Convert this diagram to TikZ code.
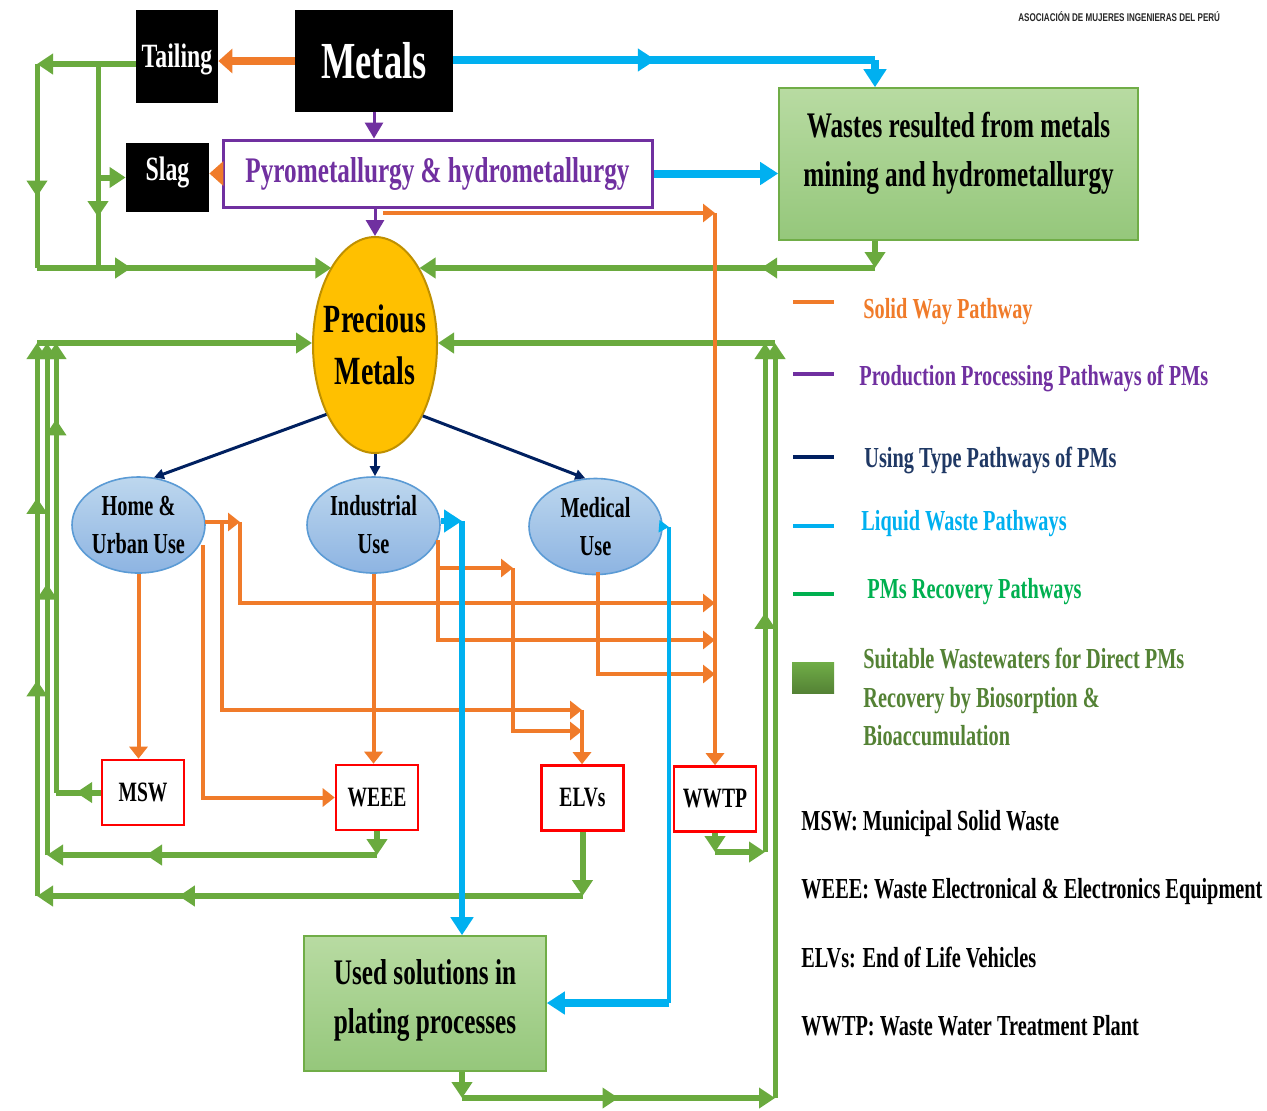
\documentclass[tikz,border=0pt]{standalone}
\usepackage{fontspec}
\setmainfont[FakeStretch=0.7]{Liberation Serif}
\newfontfamily\asocfont[FakeStretch=0.72]{Liberation Sans}
\usetikzlibrary{arrows.meta,shapes.geometric,decorations.markings,calc}
\newcommand\fsz[2]{\fontsize{#1}{#2}\selectfont}

\definecolor{cOr}{HTML}{F07B2A}
\definecolor{cBl}{HTML}{00B0F0}
\definecolor{cPur}{HTML}{7030A0}
\definecolor{cNav}{HTML}{002060}
\definecolor{cNavT}{HTML}{1F3864}
\definecolor{cGr}{HTML}{6AAA3E}
\definecolor{cGrL}{HTML}{00B050}
\definecolor{cGrT}{HTML}{548235}
\definecolor{cGrEdge}{HTML}{70AD47}
\definecolor{cGrTop}{HTML}{B8DBA2}
\definecolor{cGrBot}{HTML}{95C77B}
\definecolor{cYel}{HTML}{FFC000}
\definecolor{cGold}{HTML}{BF9000}
\definecolor{cBlueTop}{HTML}{BDD7EE}
\definecolor{cBlueBot}{HTML}{8DB4E2}
\definecolor{cBlueEdge}{HTML}{5B9BD5}
\definecolor{cRed}{HTML}{FF0000}

\begin{document}
\begin{tikzpicture}[x=0.5pt,y=-0.5pt,
  GT/.tip={Triangle[length=8pt,width=10pt]},
  OT/.tip={Triangle[length=6pt,width=9pt]},
  OTT/.tip={Triangle[length=7pt,width=12pt]},
  BT/.tip={Triangle[length=9pt,width=11pt]},
  BTS/.tip={Triangle[length=5pt,width=6pt]},
  PT/.tip={Triangle[length=8pt,width=9pt]},
  NT/.tip={Triangle[length=5pt,width=5pt]},
  gmid/.style={postaction={decorate,decoration={markings,mark=at position #1 with {\arrow{GT}}}}},
  gmidd/.style 2 args={postaction={decorate,decoration={markings,
      mark=at position #1 with {\arrow{GT}},mark=at position #2 with {\arrow{GT}}}}},
  bmid/.style={postaction={decorate,decoration={markings,mark=at position #1 with {\arrow{BT}}}}},
  gr/.style={draw=cGr,line width=3pt},
  grv/.style={draw=cGr,line width=2.5pt},
  osty/.style={draw=cOr,line width=2pt},
  othick/.style={draw=cOr,line width=4pt},
  bthick/.style={draw=cBl,line width=4pt},
  bmed/.style={draw=cBl,line width=3pt},
  bthin/.style={draw=cBl,line width=2pt},
  pur/.style={draw=cPur,line width=1.5pt},
  nav/.style={draw=cNav,line width=1.5pt},
  blk/.style={fill=black,text=white,inner sep=0pt},
  redbox/.style={draw=cRed,line width=1.3pt,fill=white,minimum width=41pt,
      minimum height=32.5pt,font=\bfseries\fsz{14}{16},inner sep=0pt},
  usebl/.style={ellipse,draw=cBlueEdge,line width=0.8pt,top color=cBlueTop,
      bottom color=cBlueBot,minimum width=66.5pt,minimum height=48pt,inner sep=0pt,
      align=center,font=\bfseries\fsz{14.5}{19}},
  grbox/.style={draw=cGrEdge,line width=0.8pt,top color=cGrTop,bottom color=cGrBot,inner sep=0pt},
  grtxt/.style={align=center,font=\bfseries\fsz{18}{24.5},inner sep=0pt},
  lgtxt/.style={anchor=base west,inner sep=0pt,font=\bfseries\fsz{14.5}{19}},
  swatch/.style={minimum width=20.5pt,minimum height=2.2pt,inner sep=0pt},
]
\fill[white] (0,0) rectangle (1267,1110);
\useasboundingbox (0,0) rectangle (1267,1110);

% ---------- boxes and ellipses ----------
\node[blk,minimum width=41pt,minimum height=46.5pt,font=\bfseries\fsz{17}{20},
      text height=11.2pt,text depth=0pt] (tailing) at (177,56.5) {Tailing};
\node[blk,minimum width=79pt,minimum height=51pt,font=\bfseries\fsz{26}{30},
      text height=17.2pt,text depth=0pt] (metals) at (374,61) {Metals};
\node[blk,minimum width=41.5pt,minimum height=34.5pt,font=\bfseries\fsz{17}{20},
      text height=11.2pt,text depth=8pt] (slag) at (167.5,177.5) {Slag};
\node[draw=cPur,line width=1.5pt,fill=white,text=cPur,minimum width=214.5pt,minimum height=33.5pt,
      font=\bfseries\fsz{18}{20},inner sep=0pt] (pyro) at (437.5,173.5) {Pyrometallurgy \& hydrometallurgy};
\node[grbox,minimum width=179.5pt,minimum height=76pt] (wastes) at (958.5,164) {};
\node[grtxt] (wastesT) at ($(wastes.center)+(0,-11)$) {Wastes resulted from metals\\mining and hydrometallurgy};
\node[ellipse,draw=cGold,line width=1pt,fill=cYel,minimum width=62pt,minimum height=108pt,inner sep=0pt] (pm) at (375,345) {};
\node[align=center,inner sep=0pt,font=\bfseries\fsz{20}{26}] (pmT) at (pm.center) {Precious\\Metals};
\node[usebl] (home) at (138.5,525) {Home \&\\Urban Use};
\node[usebl] (indus) at (373.5,525) {Industrial\\Use};
\node[usebl] (med) at (595.5,526.5) {Medical\\Use};
\node[redbox] (msw) at (143,792.5) {MSW};
\node[redbox] (weee) at (377,797.5) {WEEE};
\node[redbox] (elvs) at (582.5,798) {ELVs};
\node[redbox] (wwtp) at (715,799) {WWTP};
\node[grbox,minimum width=121pt,minimum height=67.5pt] (used) at (425,1003.5) {};
\node[grtxt] (usedT) at ($(used.center)+(0,-3)$) {Used solutions in\\plating processes};

% ---------- junction points ----------
\coordinate (gA) at (37,64);   \coordinate (gB) at (98,64);
\coordinate (gC) at (37,268);  \coordinate (gD) at (98,268);
\coordinate (gE) at (875,268);
\coordinate (lA) at (37,343);  \coordinate (lB) at (47,343);  \coordinate (lC) at (56,343);
\coordinate (lA2) at (37,896); \coordinate (lB2) at (47,855);
\coordinate (rA) at (765,343); \coordinate (rB) at (775,343);
\coordinate (rA2) at (765,852); \coordinate (rB2) at (775,1098); \coordinate (uA) at (462,1098);
\coordinate (oA) at (383,213); \coordinate (oB) at (715,213);
\coordinate (hA) at (205,522); \coordinate (hB) at (240,522);
\coordinate (hC) at (222,522); \coordinate (hD) at (203,545);
\coordinate (wA) at (715,603); \coordinate (wB) at (715,640); \coordinate (wC) at (715,674);
\coordinate (eA) at (582,710); \coordinate (eB) at (582,731);
\coordinate (iA) at (438,540); \coordinate (iB) at (438,568); \coordinate (iC) at (513,568);
\coordinate (mA) at (598,572);
\coordinate (bA) at (875,60);  \coordinate (bB) at (462,521);
\coordinate (bC) at (669,527); \coordinate (bD) at (669,1003);

% ---------- PMs recovery pathways ----------
\draw[gr,-GT] (tailing.west |- gA) -- (gA);
\draw[grv,gmid=0.65] (gA) -- (gC);
\draw[grv,gmid=0.75] (gB) -- (gD);
\draw[gr,-GT] (gB |- slag.west) -- (slag.west);
\draw[gr,-GT,gmid=0.32] (gC) -- (gC -| pm.119.5);
\draw[gr,-GT] (wastes.south -| gE) -- (gE);
\draw[gr,-GT,gmid=0.25] (gE) -- (gE -| pm.60.5);

\draw[gr,-GT] (lA) -- (lA -| pm.west);
\draw[gr,gmid=0.55] (msw.west) -- (lC |- msw.west);
\draw[grv,-GT,gmid=0.83] (lC |- msw.west) -- (lC);
\draw[gr,-GT] (weee.south) -- (weee.south |- lB2);
\draw[gr,-GT,gmid=0.7] (weee.south |- lB2) -- (lB2);
\draw[grv,-GT,gmid=0.53] (lB2) -- (lB);
\draw[gr,-GT] (elvs.south) -- (elvs.south |- lA2);
\draw[gr,-GT,gmid=0.74] (elvs.south |- lA2) -- (lA2);
\draw[grv,-GT,gmidd={0.39}{0.72}] (lA2) -- (lA);

\draw[gr,-GT] (rB) -- (rB -| pm.east);
\draw[gr,-GT] (wwtp.south) -- (wwtp.south |- rA2);
\draw[gr,-GT] (wwtp.south |- rA2) -- (rA2);
\draw[grv,-GT,gmid=0.47] (rA2) -- (rA);
\draw[gr,-GT] (used.south -| uA) -- (uA);
\draw[gr,-GT,gmid=0.5] (uA) -- (rB2);
\draw[grv,-GT] (rB2) -- (rB);

% ---------- solid way pathways ----------
\draw[othick,-OTT] (metals.west) -- (metals.west -| tailing.east);
\draw[othick,-OTT] (pyro.west) -- (pyro.west -| slag.east);
\draw[osty,-OT] (oA) -- (oB);
\draw[osty,-OT] (oB) -- (wwtp.north);
\draw[osty,-OT] (home.south) -- (home.south |- msw.north);
\draw[osty,-OT] (hA) -- (hB);
\draw[osty,-OT] (hB) |- (wA);
\draw[osty,-OT] (hC) |- (eA);
\draw[osty,-OT] (eA) -- (eA |- elvs.north);
\draw[osty,-OT] (hD) |- (weee.west);
\draw[osty,-OT] (indus.south) -- (indus.south |- weee.north);
\draw[osty,-OT] (iA) |- (wB);
\draw[osty,-OT] (iB) -- (iC);
\draw[osty,-OT] (iC) |- (eB);
\draw[osty,-OT] (mA) |- (wC);

% ---------- liquid waste pathways ----------
\draw[bthick,bmid=0.48] (metals.east |- bA) -- (bA);
\draw[bthick,-BT] (bA) -- (bA |- wastes.north);
\draw[bthick,-BT] (pyro.east) -- (pyro.east -| wastes.west);
\draw[bmed,-BT] (indus.east |- bB) -- (bB);
\draw[bmed,-BT] (bB) -- (bB |- used.north);
\draw[bthin,-BTS] (med.east) -- (bC);
\draw[bthin] (bC) -- (bD);
\draw[bthick,-BT] (bD) -- (bD -| used.east);

% ---------- production and use pathways ----------
\draw[pur,-PT] (metals.south) -- (metals.south |- pyro.north);
\draw[pur,-PT] (pyro.south -| pm.north) -- (pm.north);
\draw[nav,-NT] (pm.235) -- (home.72);
\draw[nav,-NT] (pm.south) -- (pm.south |- indus.north);
\draw[nav,-NT] (pm.-56) -- (med.102);

% ---------- legend ----------
\node[swatch,fill=cOr] (sw1) at (813.5,302) {};
\node[swatch,fill=cPur] (sw2) at (813.5,374) {};
\node[swatch,fill=cNav] (sw3) at (813.5,457) {};
\node[swatch,fill=cBl] (sw4) at (813.5,526) {};
\node[swatch,fill=cGrL] (sw5) at (813.5,594) {};
\node[minimum width=21pt,minimum height=15.5pt,inner sep=0pt,top color=cGrEdge,bottom color=cGrT] (sw6) at (813,677.5) {};
\node[lgtxt,text=cOr] (t1) at (863,318) {Solid Way Pathway};
\node[lgtxt,text=cPur] (t2) at (859,385) {Production Processing Pathways of PMs};
\node[lgtxt,text=cNavT] (t3) at (864,467) {Using Type Pathways of PMs};
\node[lgtxt,text=cBl] (t4) at (861,530) {Liquid Waste Pathways};
\node[lgtxt,text=cGrL] (t5) at (867,598) {PMs Recovery Pathways};
\node[lgtxt,text=cGrT] (t6a) at (863,668) {Suitable Wastewaters for Direct PMs};
\node[lgtxt,text=cGrT] (t6b) at (863,707) {Recovery by Biosorption \&};
\node[lgtxt,text=cGrT] (t6c) at (863,745) {Bioaccumulation};

\node[lgtxt] (a1) at (801,830) {MSW: Municipal Solid Waste};
\node[lgtxt] (a2) at (801,898) {WEEE: Waste Electronical \& Electronics Equipment};
\node[lgtxt] (a3) at (801,967) {ELVs: End of Life Vehicles};
\node[lgtxt] (a4) at (801,1035) {WWTP: Waste Water Treatment Plant};

\node[anchor=base west,inner sep=0pt,font=\asocfont\bfseries\fsz{5.6}{6},text=black!85] (asoc) at (1018,21)
  {ASOCIACIÓN DE MUJERES INGENIERAS DEL PERÚ};
\end{tikzpicture}
\end{document}
